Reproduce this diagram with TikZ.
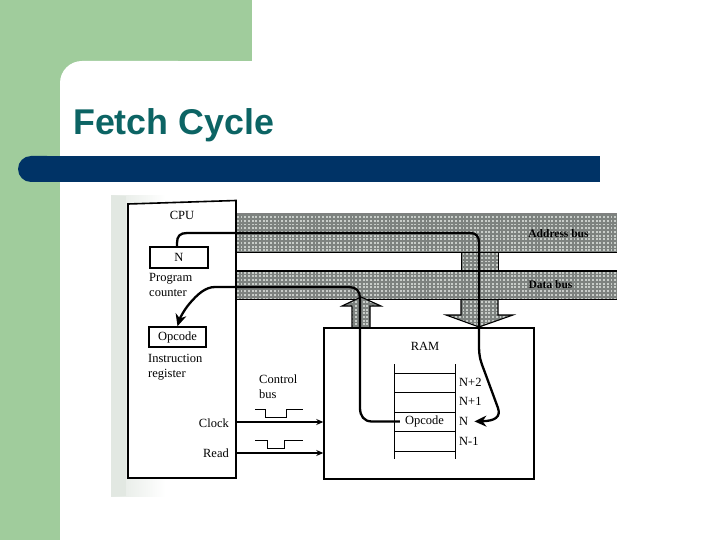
\documentclass[tikz,border=0pt]{standalone}
\usepackage{fontspec}
\setmainfont{Liberation Serif}
\newfontfamily\titlefont{Liberation Sans}
\usetikzlibrary{arrows.meta,patterns}
\definecolor{slidegreen}{RGB}{160,204,156}
\definecolor{barblue}{RGB}{0,51,102}
\definecolor{titleteal}{RGB}{12,100,100}
\definecolor{scangray}{RGB}{226,232,226}
\definecolor{busgray}{RGB}{125,130,127}
\definecolor{busdot}{RGB}{200,205,201}
\pgfdeclarepatternformonly{busdots}{\pgfqpoint{-1pt}{-1pt}}{\pgfqpoint{3pt}{3pt}}{\pgfqpoint{3.7pt}{3.7pt}}{
  \pgfpathrectangle{\pgfqpoint{0pt}{0pt}}{\pgfqpoint{1.9pt}{1.9pt}}
  \pgfusepath{fill}
}
\tikzset{
  boxnode/.style={draw=black,fill=white,line width=1.5pt,inner sep=0pt},
  busband/.style={inner sep=0pt,preaction={fill=busgray},pattern=busdots,pattern color=busdot},
  busedge/.style={black,line width=1.4pt},
  busarrow/.style={draw=black,line width=1.1pt,preaction={fill=busgray},pattern=busdots,pattern color=busdot},
  wirepath/.style={black,line width=2.3pt},
  ctrlwire/.style={black,line width=1.3pt,-{Stealth[length=7pt,width=6pt]}},
  pulse/.style={black,line width=0.8pt},
  stackline/.style={black,line width=1pt},
  txt/.style={inner sep=0pt,align=left}
}
\begin{document}
\begin{tikzpicture}[x=1pt,y=-1pt,font=\fontsize{12.5}{15}\selectfont]
\useasboundingbox (0,0) rectangle (720,540);
\fill[white] (0,0) rectangle (720,540);
\fill[slidegreen] (0,0) rectangle (252,61);
\fill[slidegreen] (0,0) rectangle (60,540);
\fill[slidegreen] (60,61) rectangle (90,90);
\fill[white,rounded corners=22pt] (60,61) rectangle (200,150);
\fill[barblue,rounded corners=13pt] (18,156) rectangle (60,182);
\fill[barblue] (31,156) rectangle (600,182);
\node[anchor=base west,inner sep=0pt,text=titleteal,font=\titlefont\bfseries\fontsize{35.8}{40}\selectfont] (title) at (73,135) {Fetch Cycle};

\shade[left color=scangray,right color=white] (111,196) rectangle (165,496);
\fill[scangray] (111,196) rectangle (126,496);

\node[busband,minimum width=381pt,minimum height=39pt] (addrbus) at (426.5,233) {};
\fill[busarrow,draw=none] (461,252) rectangle (498,271);
\draw[busarrow] (461,299) -- (461,315) -- (446,315) -- (479,327) -- (513,315) -- (498,315) -- (498,299);
\node[busband,minimum width=381pt,minimum height=28pt] (databus) at (426.5,285) {};
\draw[gray,line width=0.6pt] (addrbus.north west) -- (addrbus.north east);
\draw[busedge] (addrbus.south west) -- (addrbus.south east);
\draw[busedge] (databus.north west) -- (databus.north east);
\draw[busedge] (databus.south west) -- (databus.south east);
\draw[black,line width=0.8pt] (461,252) -- (461,271);
\draw[black,line width=0.8pt] (498,252) -- (498,271);
\draw[busarrow] (352,328) -- (352,306) -- (342,306) -- (361,297) -- (381,306) -- (370,306) -- (370,328);

\node[txt,font=\bfseries\fontsize{11.5}{13}\selectfont] (addrlabel) at (558.5,234) {Address bus};
\node[txt,font=\bfseries\fontsize{11.5}{13}\selectfont] (datalabel) at (550.5,285) {Data bus};

\draw[black,line width=1.6pt,fill=white] (128,204) -- (236,200.5) -- (236,478) -- (128,478) -- cycle;
\node[boxnode,minimum width=58pt,minimum height=21pt] (pcbox) at (179,257.5) {N};
\node[boxnode,minimum width=57pt,minimum height=20pt] (irbox) at (177.5,337) {Opcode};
\node[txt] (cpulabel) at (182,215) {CPU};
\node[txt,anchor=west,text width=60pt] (pclabel) at (149,284.5) {Program\\counter};
\node[txt,anchor=west,text width=60pt] (irlabel) at (148,367) {Instruction\\register};
\node[txt,anchor=east] (clocklabel) at (229,423.5) {Clock};
\node[txt,anchor=east] (readlabel) at (229,453) {Read};

\node[boxnode,minimum width=210pt,minimum height=151pt] (rambox) at (429,403.5) {};
\node[txt] (ramlabel) at (425,346.5) {RAM};
\draw[stackline] (394,364) -- (394,459);
\draw[stackline] (455,364) -- (455,459);
\foreach \ypos in {373,392,412,431,451}
  \draw[stackline] (394,\ypos) -- (455,\ypos);
\node[txt] (stackop) at (424.5,421.5) {Opcode};
\node[txt,anchor=west] (np2) at (459,382.5) {N+2};
\node[txt,anchor=west] (np1) at (459,401.5) {N+1};
\node[txt,anchor=west] (ncell) at (459,421.5) {N};
\node[txt,anchor=west] (nm1) at (459,441.5) {N-1};

\node[txt,anchor=west,text width=50pt] (ctrllabel) at (259,386.5) {Control\\bus};
\coordinate (clockout) at (237,422);
\coordinate (readout) at (237,453);
\draw[ctrlwire] (clockout) -- (clockout -| rambox.west);
\draw[ctrlwire] (readout) -- (readout -| rambox.west);
\draw[pulse] (255,409) -- (265,409) -- (265,417) -- (286,417) -- (286,409) -- (303,409);
\draw[pulse] (255,440) -- (267,440) -- (267,448) -- (284,448) -- (284,440) -- (303,440);

\draw[wirepath,-{Stealth[length=12pt,width=11pt]},shorten >=6pt] ([xshift=-2pt]pcbox.north) -- (177,243) .. controls (177,236) and (180,233) .. (187,233) -- (470,233) .. controls (476,233) and (479,236) .. (479,243) -- (479,345) .. controls (479,358) and (481,362) .. (484,370) -- (498,408) .. controls (501,417) and (495,421) .. (ncell.east);
\draw[wirepath,-{Stealth[length=12pt,width=11pt]},shorten <=5pt] (stackop.west) -- (372,421.5) .. controls (364,421.5) and (360,416) .. (360,408) -- (360,298) .. controls (360,291) and (356,287) .. (349,287) -- (215,287) .. controls (205,287) and (197,295) .. (190,303) .. controls (184,310) and (180,318) .. (irbox.north);
\end{tikzpicture}
\end{document}
